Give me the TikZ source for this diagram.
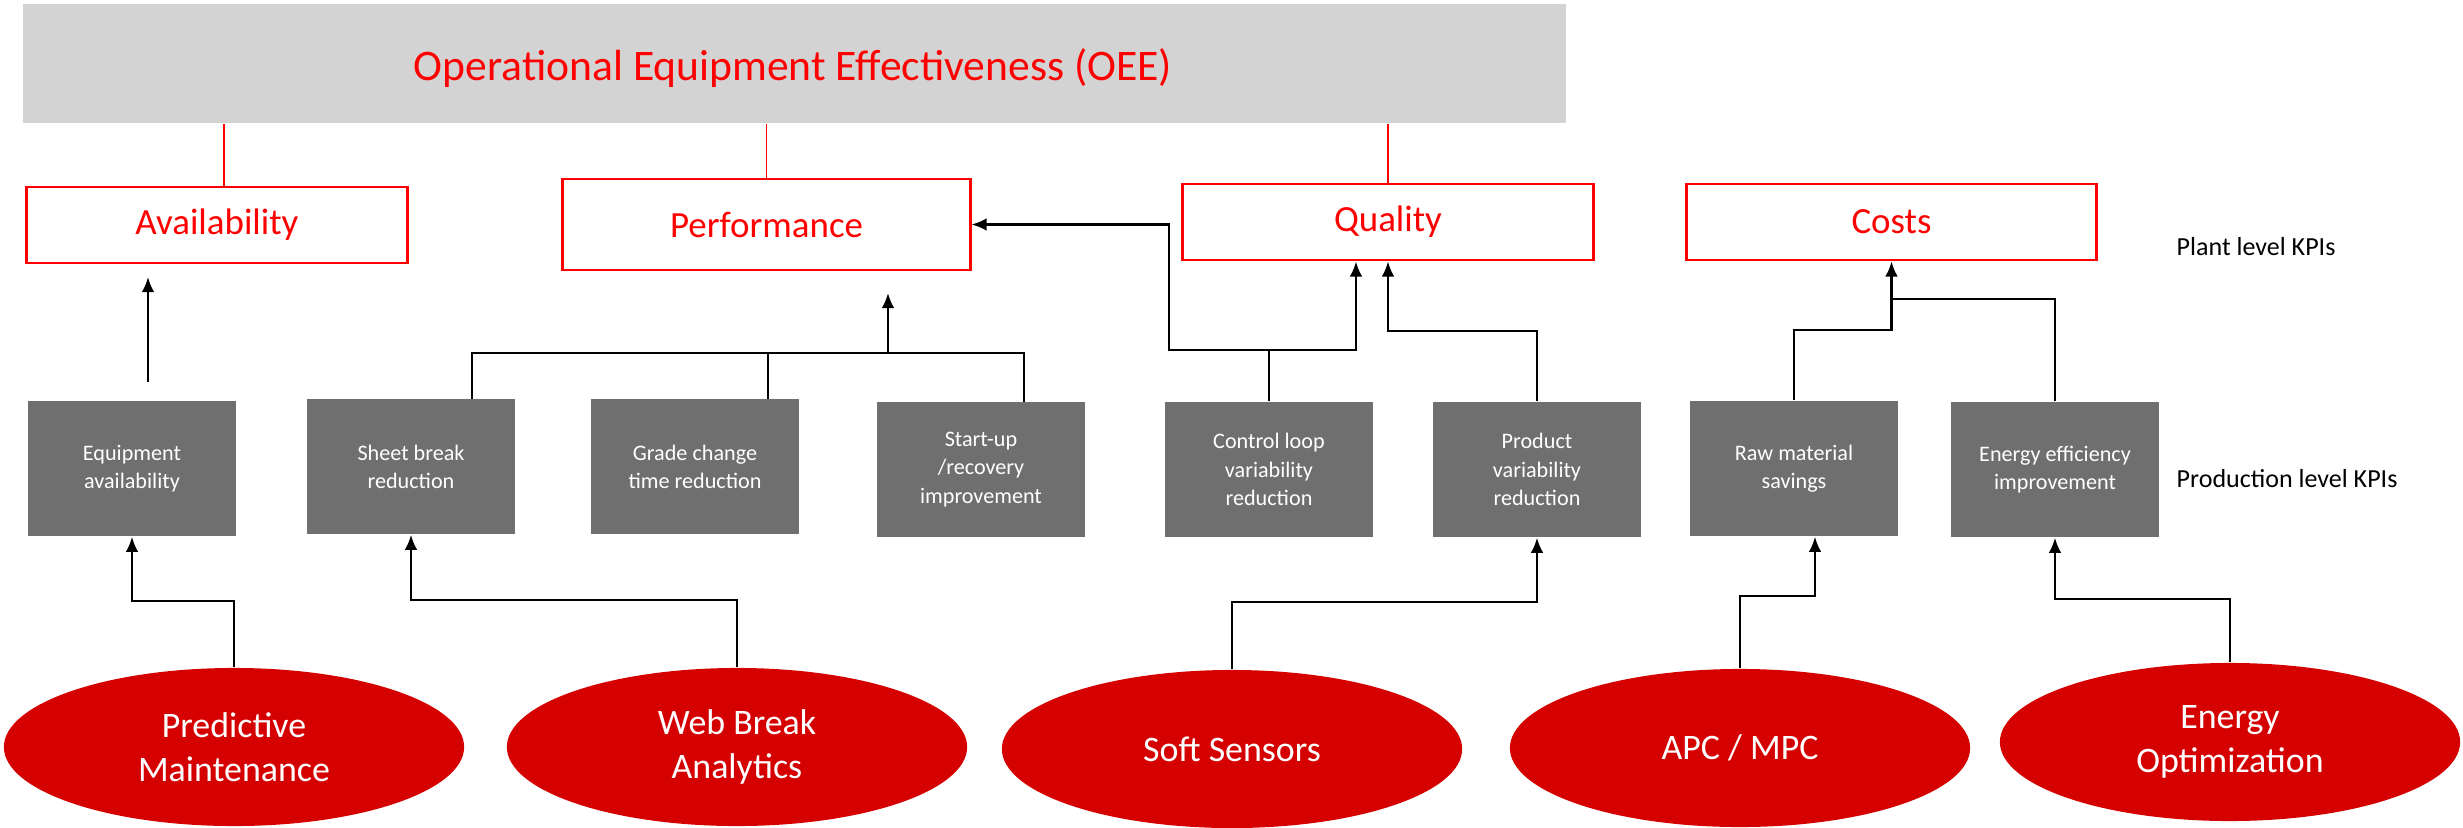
\documentclass[tikz,border=0pt]{standalone}
\usepackage{fontspec}
\setmainfont{Carlito}
\usetikzlibrary{shapes.geometric,arrows.meta}
\definecolor{oeegray}{HTML}{D3D3D3}
\definecolor{boxgray}{HTML}{6F6F6F}
\definecolor{techred}{HTML}{D50000}
\begin{document}
\begin{tikzpicture}[x=0.01cm,y=-0.01cm,
 kpi/.style={draw=red,line width=0.8pt,text=red,inner sep=0pt,font=\fontsize{10.5}{12}\selectfont},
 prodbox/.style={fill=boxgray,text=white,inner sep=0pt,minimum width=2.08cm,minimum height=1.35cm,align=center,font=\fontsize{6.3}{8}\selectfont},
 tech/.style={ellipse,fill=techred,text=white,inner sep=0pt,minimum width=4.6cm,minimum height=1.58cm,align=center,font=\fontsize{10.2}{12.5}\selectfont},
 conn/.style={line width=0.65pt},
 arr/.style={conn,-{Latex[length=4.3pt,width=3.6pt]}},
 redline/.style={red,line width=0.5pt},
 lvl/.style={anchor=west,inner sep=0pt,font=\fontsize{7.4}{9}\selectfont}]
\useasboundingbox (0,0) rectangle (2463,827);

% top box
\node[fill=oeegray,minimum width=15.43cm,minimum height=1.19cm,inner sep=0pt] (oee) at (794.5,63.5) {};
\node[text=red,inner sep=0pt,font=\fontsize{12.4}{14}\selectfont] (oeet) at (793,68) {Operational Equipment Effectiveness (OEE)};

% plant level KPIs
\node[kpi,minimum width=3.8cm,minimum height=0.76cm] (av) at (217,225) {Availability};
\node[kpi,minimum width=4.07cm,minimum height=0.91cm] (pf) at (766.5,224.5) {Performance};
\node[kpi,minimum width=4.1cm,minimum height=0.76cm] (ql) at (1388,222) {Quality};
\node[kpi,minimum width=4.09cm,minimum height=0.76cm] (cs) at (1891.5,222) {Costs};

\node[lvl] (plt) at (2176,247) {Plant level KPIs};
\node[lvl] (prd) at (2176,479) {Production level KPIs};

% production level KPIs
\node[prodbox] (eq) at (132,468.5) {Equipment\\availability};
\node[prodbox] (sb) at (411,466.5) {Sheet break\\reduction};
\node[prodbox] (gc) at (695,466.5) {Grade change\\time reduction};
\node[prodbox] (su) at (981,469.5) {Start-up\\/recovery\\improvement};
\node[prodbox] (cl) at (1269,469.5) {Control loop\\variability\\reduction};
\node[prodbox] (pv) at (1537,469.5) {Product\\variability\\reduction};
\node[prodbox] (rm) at (1794,468.5) {Raw material\\savings};
\node[prodbox] (ee) at (2055,469.5) {Energy efficiency\\improvement};

% technologies
\node[tech] (pm) at (234,747) {Predictive\\Maintenance};
\node[tech] (wb) at (737,747) {Web Break\\Analytics};
\node[tech] (ss) at (1232,749) {Soft Sensors};
\node[tech] (apc) at (1740,748) {APC / MPC};
\node[tech] (eo) at (2230,742) {Energy\\Optimization};

% red lines from OEE
\draw[redline] ([xshift=0.07cm]av.north) -- ([xshift=0.07cm]av.north |- oee.south);
\draw[redline] (pf.north) -- (pf.north |- oee.south);
\draw[redline] (ql.north) -- (ql.north |- oee.south);

% availability arrow (floating)
\coordinate (avA) at (148,382);
\coordinate (avB) at (148,277);
\draw[arr] (avA) -- (avB);

% performance tree
\coordinate (sbT) at (472,399);
\coordinate (pjL) at (472,353);
\coordinate (pjR) at (1024,353);
\coordinate (suT) at (1024,402);
\coordinate (gcB) at (768,353);
\coordinate (gcT) at (768,399);
\coordinate (pjA) at (888,353);
\coordinate (pjB) at (888,293);
\draw[conn] (sbT) -- (pjL) -- (pjR) -- (suT);
\draw[conn] (gcB) -- (gcT);
\draw[arr] (pjA) -- (pjB);

% control loop -> performance and quality
\coordinate (clJ) at (1269,350);
\coordinate (clL) at (1169,350);
\draw[arr] (cl.north) -- (clJ) -- (clL) |- (pf.east);
\draw[arr] (clJ) -| ([xshift=-0.32cm]ql.south);

% product variability -> quality
\draw[arr] (pv.north) -- ++(0,-70) -| (ql.south);

% costs
\coordinate (csJ) at (1891.5,299);
\draw[arr] (rm.north) -- ++(0,-70) -| (cs.south);
\draw[conn] (ee.north) |- (csJ);

% technologies -> production KPIs
\draw[arr] (pm.north) -- ++(0,-66) -| (eq.south);
\draw[arr] (wb.north) -- ++(0,-67) -| (sb.south);
\draw[arr] (ss.north) -- ++(0,-67) -| (pv.south);
\draw[arr] (apc.north) -- ++(0,-72) -| ([xshift=0.21cm]rm.south);
\draw[arr] (eo.north) -- ++(0,-63) -| (ee.south);
\end{tikzpicture}
\end{document}
